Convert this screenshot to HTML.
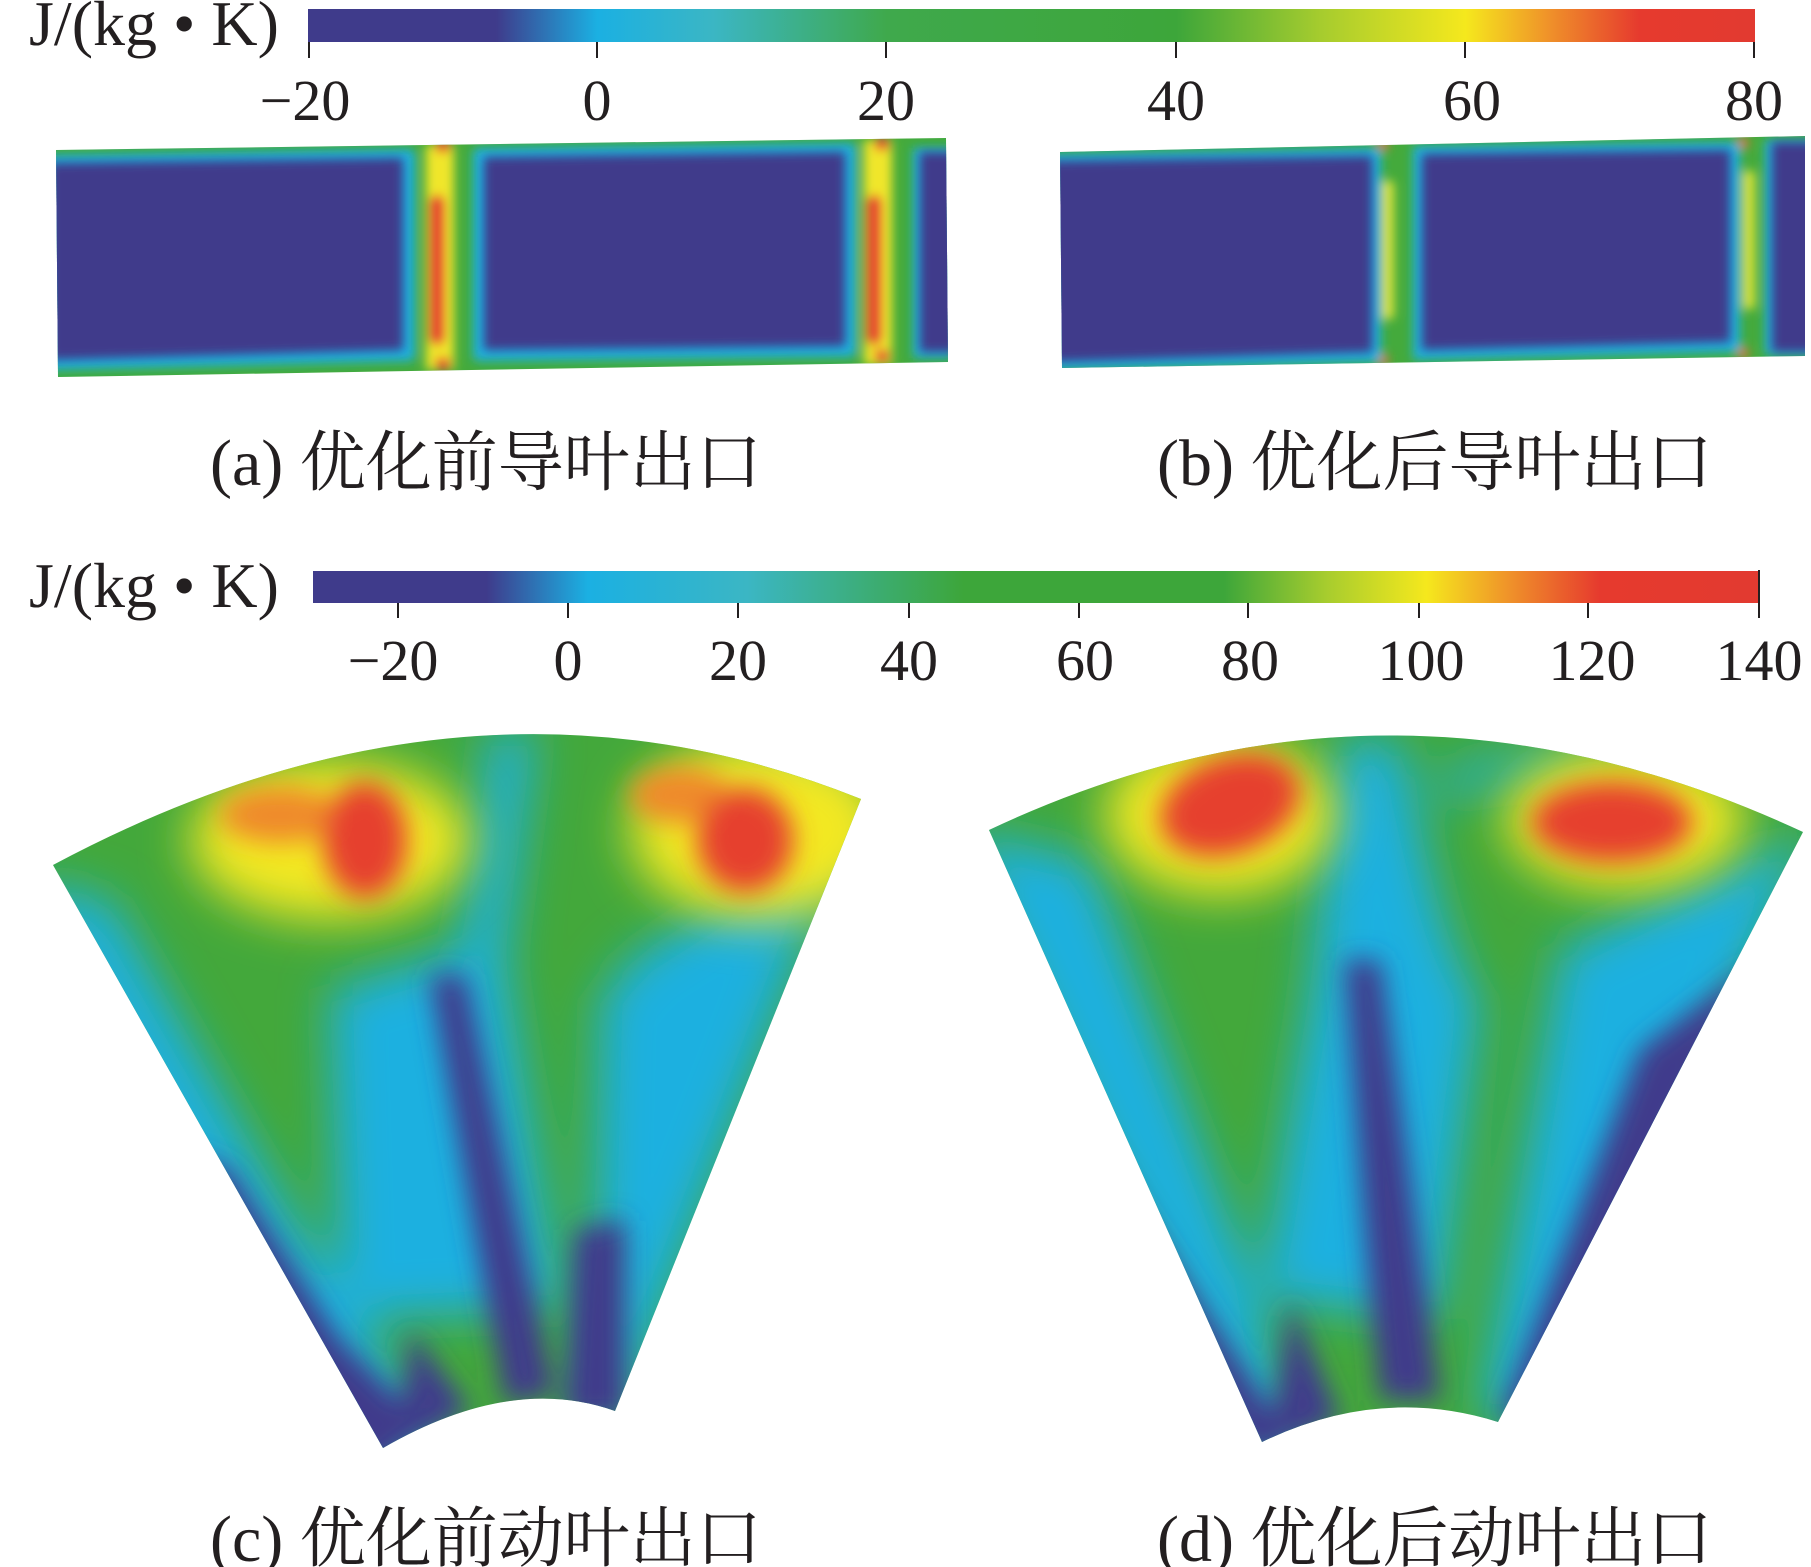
<!DOCTYPE html>
<html><head><meta charset="utf-8"><style>
html,body{margin:0;padding:0;background:#fff;}
svg{display:block;}
text{font-family:"Liberation Serif","Noto Serif CJK SC",serif;fill:#231f20;}
</style></head><body>
<svg width="1811" height="1567" viewBox="0 0 1811 1567" xmlns="http://www.w3.org/2000/svg">
<defs>
<linearGradient id="cb1" x1="0" x2="1" y1="0" y2="0">
<stop offset="0" stop-color="#3f3b8b"/><stop offset="0.13" stop-color="#3f3b8b"/>
<stop offset="0.2" stop-color="#1bb0e2"/><stop offset="0.28" stop-color="#3bb6c4"/>
<stop offset="0.4" stop-color="#3fa94c"/><stop offset="0.6" stop-color="#3da63a"/>
<stop offset="0.7" stop-color="#a6cc2e"/><stop offset="0.8" stop-color="#f5e81d"/>
<stop offset="0.86" stop-color="#ef8e2a"/><stop offset="0.92" stop-color="#e63a2e"/>
<stop offset="1" stop-color="#e23a30"/></linearGradient>
<linearGradient id="cb2" x1="0" x2="1" y1="0" y2="0">
<stop offset="0" stop-color="#3f3b8b"/><stop offset="0.12" stop-color="#3f3b8b"/>
<stop offset="0.19" stop-color="#1bb0e2"/><stop offset="0.3" stop-color="#3bb6c4"/>
<stop offset="0.45" stop-color="#3da63a"/><stop offset="0.63" stop-color="#3da63a"/>
<stop offset="0.7" stop-color="#a6cc2e"/><stop offset="0.77" stop-color="#f5e81d"/>
<stop offset="0.83" stop-color="#ef8e2a"/><stop offset="0.89" stop-color="#e63a2e"/>
<stop offset="1" stop-color="#e23a30"/></linearGradient>
<filter id="b6" x="-20%" y="-20%" width="140%" height="140%"><feGaussianBlur stdDeviation="5"/></filter>
<filter id="b18" x="-50%" y="-50%" width="200%" height="200%"><feGaussianBlur stdDeviation="24"/></filter>
<filter id="b10" x="-50%" y="-50%" width="200%" height="200%"><feGaussianBlur stdDeviation="13"/></filter>
<clipPath id="pa"><polygon points="56,150 946,138 948,362 58,377"/></clipPath>
<clipPath id="pb"><polygon points="1060,152 1805,136 1805,356 1062,368"/></clipPath>
<clipPath id="fc"><path d="M53,865 Q470,642 861,799 L615,1411 Q511,1374 383,1448 Z"/></clipPath>
<clipPath id="fd"><path d="M989,830 Q1390,640 1803,832 L1498,1422 Q1380,1385 1262,1442 Z"/></clipPath>
</defs>

<!-- colorbar 1 -->
<text x="29" y="45" font-size="64">J/(kg • K)</text>
<rect x="308" y="9" width="1447" height="33" fill="url(#cb1)"/>
<g stroke="#231f20" stroke-width="2">
<line x1="309" y1="42" x2="309" y2="58"/><line x1="597" y1="42" x2="597" y2="58"/><line x1="886" y1="42" x2="886" y2="58"/><line x1="1176" y1="42" x2="1176" y2="58"/><line x1="1465" y1="42" x2="1465" y2="58"/><line x1="1754" y1="42" x2="1754" y2="58"/>
</g>
<g font-size="58" text-anchor="middle">
<text x="305" y="120">−20</text><text x="597" y="120">0</text><text x="886" y="120">20</text><text x="1176" y="120">40</text><text x="1472" y="120">60</text><text x="1754" y="120">80</text>
</g>

<!-- panel a -->
<g clip-path="url(#pa)">
<rect x="40" y="120" width="920" height="270" fill="#44aa3c"/>
<g filter="url(#b6)">
<rect x="426" y="145" width="28" height="225" fill="#f0e62a"/>
<rect x="864" y="140" width="28" height="225" fill="#f0e62a"/>
<rect x="429" y="195" width="16" height="150" rx="8" fill="#e63a2e"/>
<rect x="866" y="195" width="16" height="150" rx="8" fill="#e63a2e"/>
<rect x="436" y="140" width="14" height="12" fill="#e63a2e"/>
<rect x="436" y="358" width="14" height="12" fill="#e63a2e"/>
<rect x="875" y="138" width="14" height="12" fill="#e63a2e"/>
<rect x="875" y="350" width="14" height="12" fill="#e63a2e"/>
<polygon points="50,160 410,154 410,356 50,365" fill="#1fb0e0" stroke="#1fb0e0" stroke-width="10" stroke-linejoin="round"/>
<polygon points="478,153 851,148 851,352 478,356" fill="#1fb0e0" stroke="#1fb0e0" stroke-width="10" stroke-linejoin="round"/>
<rect x="913" y="148" width="40" height="210" fill="#1fb0e0"/>
</g>
<g filter="url(#b6)">
<polygon points="50,163 403,158 403,350 50,360" fill="#413b8b"/>
<polygon points="484,157 845,152 845,346 484,350" fill="#413b8b"/>
<rect x="920" y="152" width="40" height="200" fill="#413b8b"/>
</g>
</g>

<!-- panel b -->
<g clip-path="url(#pb)">
<rect x="1040" y="120" width="780" height="260" fill="#44aa3c"/>
<g filter="url(#b6)">
<rect x="1382" y="180" width="12" height="140" rx="6" fill="#d8e23a"/>
<rect x="1743" y="170" width="12" height="140" rx="6" fill="#d8e23a"/>
<rect x="1378" y="140" width="10" height="10" fill="#ee6a2e"/>
<rect x="1378" y="355" width="10" height="10" fill="#ee6a2e"/>
<rect x="1738" y="138" width="10" height="10" fill="#ee6a2e"/>
<rect x="1738" y="348" width="10" height="10" fill="#ee6a2e"/>
<polygon points="1050,158 1377,152 1377,358 1050,366" fill="#1fb0e0" stroke="#1fb0e0" stroke-width="8"/>
<polygon points="1417,150 1736,146 1736,348 1417,356" fill="#1fb0e0" stroke="#1fb0e0" stroke-width="8"/>
<rect x="1765" y="140" width="50" height="215" fill="#1fb0e0"/>
</g>
<g filter="url(#b6)">
<polygon points="1050,161 1372,156 1372,352 1050,362" fill="#413b8b"/>
<polygon points="1422,154 1730,150 1730,342 1422,350" fill="#413b8b"/>
<rect x="1772" y="142" width="50" height="210" fill="#413b8b"/>
</g>
</g>

<g font-size="66">
<text x="210" y="485">(a) 优化前导叶出口</text>
<text x="1157" y="485">(b) 优化后导叶出口</text>
</g>

<!-- colorbar 2 -->
<text x="29" y="607" font-size="64">J/(kg • K)</text>
<rect x="313" y="571" width="1446" height="32" fill="url(#cb2)"/>
<g stroke="#231f20" stroke-width="2">
<line x1="398" y1="603" x2="398" y2="618"/><line x1="568" y1="603" x2="568" y2="618"/><line x1="738" y1="603" x2="738" y2="618"/><line x1="909" y1="603" x2="909" y2="618"/><line x1="1079" y1="603" x2="1079" y2="618"/><line x1="1248" y1="603" x2="1248" y2="618"/><line x1="1419" y1="603" x2="1419" y2="618"/><line x1="1588" y1="603" x2="1588" y2="618"/><line x1="1759" y1="570" x2="1759" y2="618"/>
</g>
<g font-size="58" text-anchor="middle">
<text x="393" y="680">−20</text><text x="568" y="680">0</text><text x="738" y="680">20</text><text x="909" y="680">40</text><text x="1085" y="680">60</text><text x="1250" y="680">80</text><text x="1421" y="680">100</text><text x="1592" y="680">120</text><text x="1759" y="680">140</text>
</g>

<!-- fan c -->
<g clip-path="url(#fc)">
<rect x="30" y="620" width="860" height="850" fill="#43a83b"/>
<g filter="url(#b18)">
<polygon points="20,880 110,900 300,1230 440,1440 330,1470" fill="#1eb0e0"/>
<polygon points="490,730 535,730 505,960 560,1310 340,1320 330,990 460,950" fill="#1eb0e0"/>
<polygon points="630,960 850,820 620,1420 590,1420 600,1000" fill="#1eb0e0"/>
<path d="M750,840 C720,780 780,780 820,800" stroke="#1eb0e0" stroke-width="30" fill="none"/>
</g>
<g filter="url(#b10)">
<polygon points="180,1150 230,1170 340,1340 420,1420 383,1470 300,1460" fill="#413b8b"/>
<polygon points="430,975 465,975 555,1395 505,1405" fill="#413b8b"/>
<polygon points="575,1230 625,1220 625,1420 565,1420" fill="#413b8b"/>
<polygon points="410,1330 470,1410 400,1450" fill="#413b8b"/>
</g>
<g filter="url(#b18)">
<ellipse cx="330" cy="840" rx="140" ry="80" fill="#f3e822"/>
<ellipse cx="760" cy="830" rx="130" ry="90" fill="#f3e822"/>
</g>
<g filter="url(#b10)">
<ellipse cx="280" cy="815" rx="60" ry="28" fill="#ef8a2a"/>
<ellipse cx="365" cy="840" rx="42" ry="58" fill="#e6412e"/>
<ellipse cx="680" cy="795" rx="50" ry="28" fill="#ef8a2a"/>
<ellipse cx="745" cy="840" rx="48" ry="52" fill="#e6412e"/>
</g>
</g>

<!-- fan d -->
<g clip-path="url(#fd)">
<rect x="970" y="620" width="850" height="850" fill="#43a83b"/>
<g filter="url(#b18)">
<polygon points="960,830 1090,860 1240,1250 1300,1450 1240,1460" fill="#1eb0e0"/>
<path d="M1340,740 C1320,820 1320,950 1300,1050 L1260,1300 L1440,1320 L1480,1000 C1440,950 1420,820 1400,740 Z" fill="#1eb0e0"/>
<path d="M1560,950 L1810,830 L1560,1420 L1480,1420 Z" fill="#1eb0e0"/>
<path d="M1440,790 C1500,760 1560,770 1600,780" stroke="#1eb0e0" stroke-width="25" fill="none"/>
</g>
<g filter="url(#b10)">
<polygon points="1040,1060 1120,1180 1290,1440 1250,1460" fill="#413b8b"/>
<path d="M1345,960 C1355,1100 1365,1250 1380,1400 L1440,1400 C1420,1250 1400,1100 1380,960 Z" fill="#413b8b"/>
<path d="M1640,1050 L1760,960 L1540,1420 L1500,1420 Z" fill="#413b8b"/>
<path d="M1290,1300 L1340,1420 L1270,1450 Z" fill="#413b8b"/>
</g>
<g filter="url(#b18)">
<ellipse cx="1220" cy="815" rx="115" ry="80" fill="#f3e822"/>
<ellipse cx="1625" cy="820" rx="120" ry="70" fill="#f3e822"/>
</g>
<g filter="url(#b10)">
<ellipse cx="1230" cy="805" rx="72" ry="48" fill="#e6412e" transform="rotate(-20 1230 805)"/>
<ellipse cx="1612" cy="822" rx="80" ry="40" fill="#e6412e"/>
</g>
</g>

<g font-size="66">
<text x="210" y="1561">(c) 优化前动叶出口</text>
<text x="1157" y="1561">(d) 优化后动叶出口</text>
</g>
</svg>
</body></html>
